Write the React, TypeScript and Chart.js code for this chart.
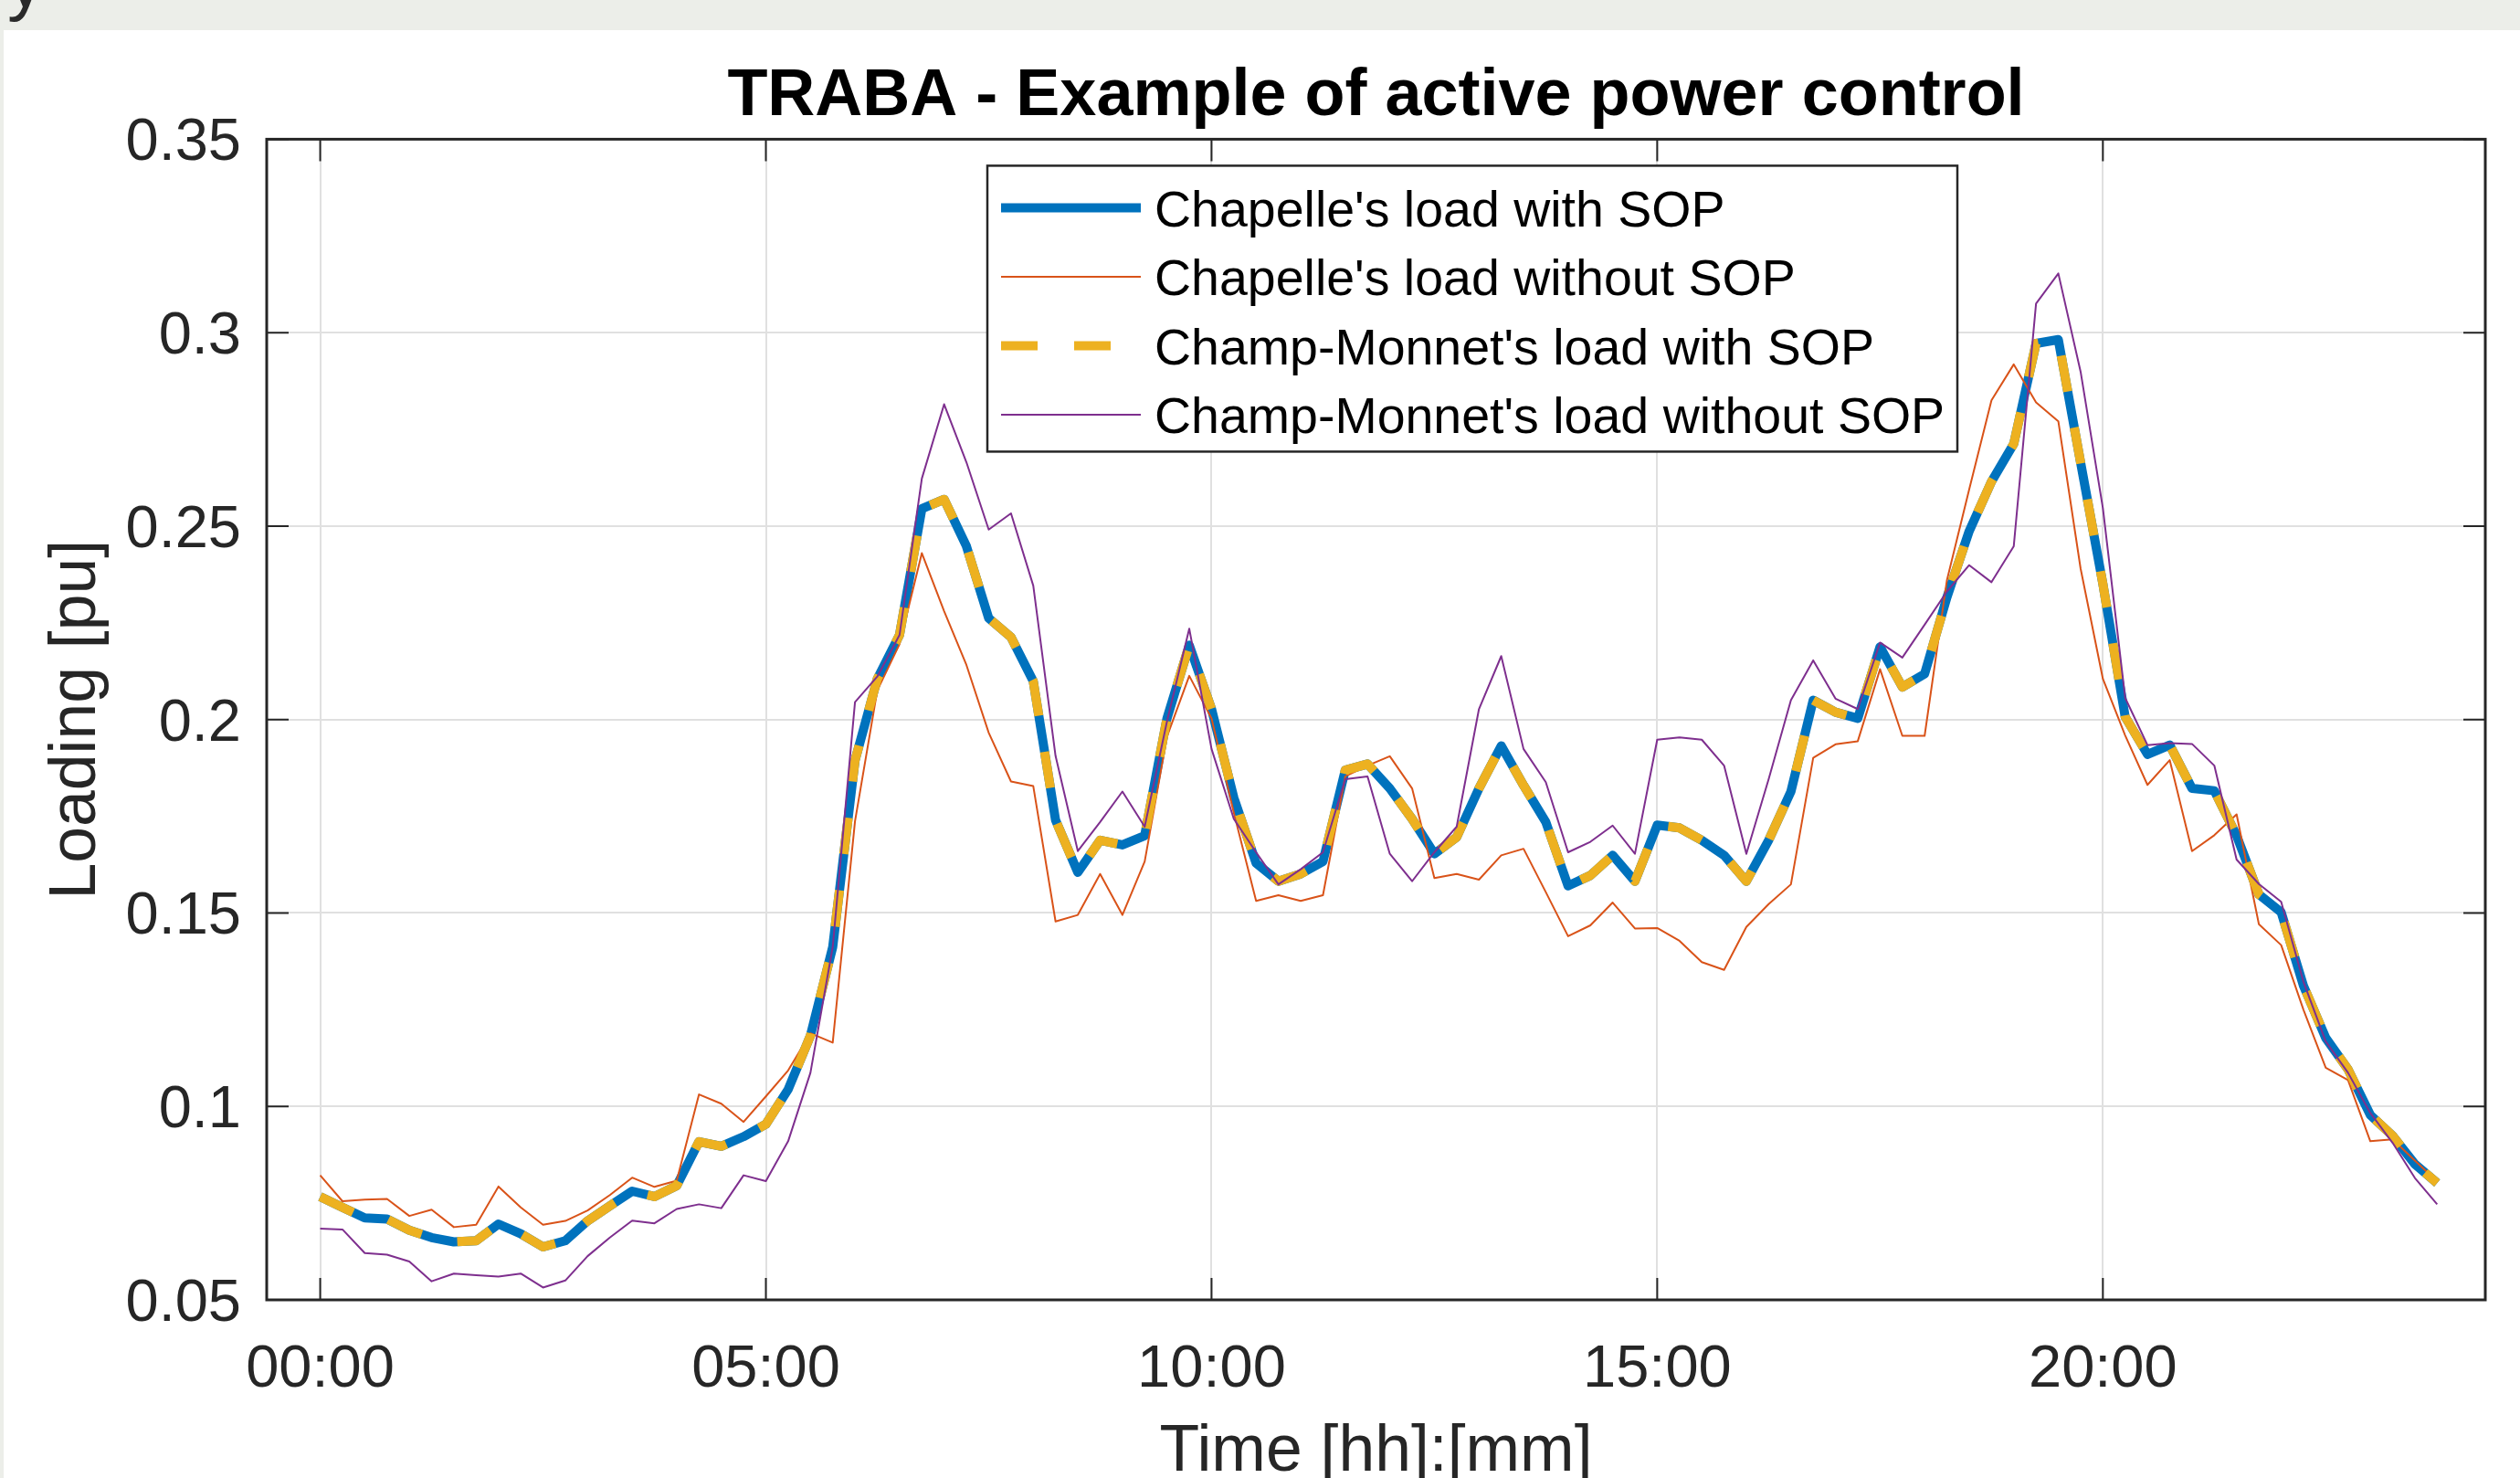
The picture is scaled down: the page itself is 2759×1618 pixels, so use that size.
import React, { useEffect, useRef } from 'react';
import { Chart, registerables } from 'chart.js';

Chart.register(...registerables);

// ---------------- data ----------------
const TITLE = 'TRABA - Example of active power control';
const X_LABEL = 'Time [hh]:[mm]';
const Y_LABEL = 'Loading [pu]';

const SERIES_NAMES = [
  "Chapelle's load with SOP",
  "Chapelle's load without SOP",
  "Champ-Monnet's load with SOP",
  "Champ-Monnet's load without SOP",
];

const TIME_LABELS = [
  '00:00','00:15','00:30','00:45','01:00','01:15','01:30','01:45','02:00','02:15','02:30','02:45',
  '03:00','03:15','03:30','03:45','04:00','04:15','04:30','04:45','05:00','05:15','05:30','05:45',
  '06:00','06:15','06:30','06:45','07:00','07:15','07:30','07:45','08:00','08:15','08:30','08:45',
  '09:00','09:15','09:30','09:45','10:00','10:15','10:30','10:45','11:00','11:15','11:30','11:45',
  '12:00','12:15','12:30','12:45','13:00','13:15','13:30','13:45','14:00','14:15','14:30','14:45',
  '15:00','15:15','15:30','15:45','16:00','16:15','16:30','16:45','17:00','17:15','17:30','17:45',
  '18:00','18:15','18:30','18:45','19:00','19:15','19:30','19:45','20:00','20:15','20:30','20:45',
  '21:00','21:15','21:30','21:45','22:00','22:15','22:30','22:45','23:00','23:15','23:30','23:45',
];

const CHAPELLE_WITH_SOP = [
  0.0767,0.0739,0.0712,0.0709,0.0680,0.0661,0.0650,0.0653,0.0696,0.0671,
  0.0637,0.0653,0.0704,0.0743,0.0781,0.0767,0.0795,0.0909,0.0897,0.0922,
  0.0954,0.1044,0.1183,0.1412,0.1894,0.2105,0.2219,0.2545,0.2569,0.2448,
  0.2262,0.2213,0.2099,0.1740,0.1605,0.1688,0.1676,0.1700,0.2003,0.2192,
  0.2027,0.1798,0.1629,0.1582,0.1601,0.1633,0.1869,0.1885,0.1822,0.1743,
  0.1653,0.1696,0.1822,0.1932,0.1830,0.1735,0.1570,0.1597,0.1649,0.1582,
  0.1727,0.1720,0.1688,0.1649,0.1582,0.1688,0.1814,0.2050,0.2019,0.2003,
  0.2188,0.2084,0.2118,0.2316,0.2487,0.2615,0.2713,0.2972,0.2982,0.2664,
  0.2350,0.2007,0.1910,0.1934,0.1822,0.1816,0.1700,0.1548,0.1502,0.1312,
  0.1177,0.1096,0.0978,0.0924,0.0851,0.0802,
];

const CHAPELLE_WITHOUT_SOP = [
  0.0822,0.0755,0.0759,0.0761,0.0717,0.0733,0.0688,0.0694,0.0793,0.0739,
  0.0694,0.0704,0.0731,0.0771,0.0816,0.0792,0.0808,0.1031,0.1007,0.0960,
  0.1026,0.1093,0.1189,0.1165,0.1737,0.2075,0.2195,0.2430,0.2280,0.2141,
  0.1966,0.1840,0.1828,0.1478,0.1495,0.1601,0.1495,0.1633,0.1956,0.2113,
  0.2003,0.1759,0.1531,0.1546,0.1531,0.1546,0.1853,0.1881,0.1905,0.1822,
  0.1590,0.1601,0.1586,0.1649,0.1666,0.1554,0.1440,0.1468,0.1527,0.1460,
  0.1461,0.1428,0.1373,0.1353,0.1464,0.1523,0.1574,0.1901,0.1936,0.1944,
  0.2130,0.1958,0.1958,0.2360,0.2595,0.2825,0.2918,0.2820,0.2771,0.2390,
  0.2105,0.1959,0.1831,0.1895,0.1660,0.1701,0.1755,0.1471,0.1417,0.1250,
  0.1100,0.1068,0.0910,0.0915,0.0860,0.0806,
];

const CHAMP_MONNET_WITH_SOP = [
  0.0767,0.0739,0.0712,0.0709,0.0680,0.0661,0.0650,0.0653,0.0696,0.0671,
  0.0637,0.0653,0.0704,0.0743,0.0781,0.0767,0.0795,0.0909,0.0897,0.0922,
  0.0954,0.1044,0.1183,0.1412,0.1894,0.2105,0.2219,0.2545,0.2569,0.2448,
  0.2262,0.2213,0.2099,0.1740,0.1605,0.1688,0.1676,0.1700,0.2003,0.2192,
  0.2027,0.1798,0.1629,0.1582,0.1601,0.1633,0.1869,0.1885,0.1822,0.1743,
  0.1653,0.1696,0.1822,0.1932,0.1830,0.1735,0.1570,0.1597,0.1649,0.1582,
  0.1727,0.1720,0.1688,0.1649,0.1582,0.1688,0.1814,0.2050,0.2019,0.2003,
  0.2188,0.2084,0.2118,0.2316,0.2487,0.2615,0.2713,0.2972,0.2982,0.2664,
  0.2350,0.2007,0.1910,0.1934,0.1822,0.1816,0.1700,0.1548,0.1502,0.1312,
  0.1177,0.1096,0.0978,0.0924,0.0851,0.0802,
];

const CHAMP_MONNET_WITHOUT_SOP = [
  0.0684,0.0682,0.0621,0.0617,0.0599,0.0548,0.0568,0.0564,0.0560,0.0568,
  0.0532,0.0550,0.0613,0.0661,0.0705,0.0698,0.0735,0.0747,0.0737,0.0822,
  0.0807,0.0910,0.1087,0.1412,0.2045,0.2111,0.2219,0.2623,0.2815,0.2665,
  0.2491,0.2533,0.2346,0.1906,0.1660,0.1735,0.1814,0.1723,0.1995,0.2235,
  0.1924,0.1743,0.1657,0.1574,0.1613,0.1657,0.1846,0.1853,0.1653,0.1582,
  0.1657,0.1723,0.2027,0.2164,0.1924,0.1838,0.1657,0.1684,0.1726,0.1653,
  0.1948,0.1954,0.1948,0.1881,0.1653,0.1846,0.2050,0.2153,0.2054,0.2027,
  0.2199,0.2160,0.2245,0.2331,0.2399,0.2355,0.2448,0.3075,0.3153,0.2899,
  0.2546,0.2056,0.1934,0.1939,0.1937,0.1881,0.1638,0.1575,0.1529,0.1322,
  0.1168,0.1087,0.0983,0.0906,0.0815,0.0747,
];

// tick positions (hours) and labels
const X_TICKS = [0, 5, 10, 15, 20];
const X_TICK_LABELS = ['00:00', '05:00', '10:00', '15:00', '20:00'];
const Y_TICKS = [0.05, 0.1, 0.15, 0.2, 0.25, 0.3, 0.35];
const Y_TICK_LABELS = ['0.05', '0.1', '0.15', '0.2', '0.25', '0.3', '0.35'];
const X_MIN = -0.6;
const X_MAX = 24.29;
const Y_MIN = 0.05;
const Y_MAX = 0.35;

// ---------------- styles ----------------
const FONT = 'Liberation Sans';
const AXIS_COLOR = '#262626';
const GRID_COLOR = '#e0e0e0';
const BLUE = '#0072BD';
const ORANGE = '#D95319';
const YELLOW = '#EDB120';
const PURPLE = '#7E2F8E';
const THICK = 10;
const THIN = 2;
const DASH = [40, 40];
const TICK_LEN = 24;

const LEGEND_STYLES = [
  { color: BLUE, width: THICK, dash: [] as number[] },
  { color: ORANGE, width: THIN, dash: [] as number[] },
  { color: YELLOW, width: THICK, dash: DASH },
  { color: PURPLE, width: THIN, dash: [] as number[] },
];

function toHours(t: string): number {
  const [h, m] = t.split(':').map(Number);
  return h + m / 60;
}

function points(values: number[]) {
  return values.map((v, i) => ({ x: toHours(TIME_LABELS[i]), y: v }));
}

const framePlugin = {
  id: 'matlabFrame',
  afterDraw(chart: any) {
    const { ctx, chartArea: a, scales } = chart;
    ctx.save();
    // inward ticks
    ctx.strokeStyle = AXIS_COLOR;
    ctx.lineWidth = 2;
    ctx.setLineDash([]);
    ctx.beginPath();
    for (const v of X_TICKS) {
      const px = scales.x.getPixelForValue(v);
      ctx.moveTo(px, a.bottom);
      ctx.lineTo(px, a.bottom - TICK_LEN);
      ctx.moveTo(px, a.top);
      ctx.lineTo(px, a.top + TICK_LEN);
    }
    for (const v of Y_TICKS) {
      const py = scales.y.getPixelForValue(v);
      ctx.moveTo(a.left, py);
      ctx.lineTo(a.left + TICK_LEN, py);
      ctx.moveTo(a.right, py);
      ctx.lineTo(a.right - TICK_LEN, py);
    }
    ctx.stroke();
    // box
    ctx.lineWidth = 3;
    ctx.strokeRect(a.left, a.top, a.right - a.left, a.bottom - a.top);

    // legend
    const lx = a.left + 789;
    const ly = a.top + 29;
    const lw = 1062;
    const lh = 313;
    ctx.fillStyle = '#ffffff';
    ctx.fillRect(lx, ly, lw, lh);
    ctx.lineWidth = 2.5;
    ctx.strokeStyle = AXIS_COLOR;
    ctx.strokeRect(lx, ly, lw, lh);
    ctx.font = `55.5px "${FONT}"`;
    ctx.textAlign = 'left';
    ctx.textBaseline = 'middle';
    SERIES_NAMES.forEach((name, i) => {
      const cy = ly + 46 + i * 75.5;
      const st = LEGEND_STYLES[i];
      ctx.beginPath();
      ctx.strokeStyle = st.color;
      ctx.lineWidth = st.width;
      ctx.lineCap = 'butt';
      ctx.setLineDash(st.dash);
      ctx.moveTo(lx + 15, cy);
      ctx.lineTo(lx + 168, cy);
      ctx.stroke();
      ctx.setLineDash([]);
      ctx.fillStyle = '#000000';
      ctx.fillText(name, lx + 183, cy + 5);
    });
    ctx.restore();
  },
};

export default function App() {
  const ref = useRef<HTMLCanvasElement>(null);

  useEffect(() => {
    const canvas = ref.current;
    if (!canvas) return;
    const lineBase = {
      pointRadius: 0,
      pointHoverRadius: 0,
      tension: 0,
      fill: false,
      borderJoinStyle: 'round' as const,
      borderCapStyle: 'butt' as const,
    };
    const chart = new Chart(canvas, {
      type: 'line',
      data: {
        datasets: [
          { ...lineBase, label: SERIES_NAMES[0], data: points(CHAPELLE_WITH_SOP), borderColor: BLUE, backgroundColor: BLUE, borderWidth: THICK, order: 3 },
          { ...lineBase, label: SERIES_NAMES[1], data: points(CHAPELLE_WITHOUT_SOP), borderColor: ORANGE, backgroundColor: ORANGE, borderWidth: THIN, order: 2 },
          { ...lineBase, label: SERIES_NAMES[2], data: points(CHAMP_MONNET_WITH_SOP), borderColor: YELLOW, backgroundColor: YELLOW, borderWidth: THICK, borderDash: DASH, order: 1 },
          { ...lineBase, label: SERIES_NAMES[3], data: points(CHAMP_MONNET_WITHOUT_SOP), borderColor: PURPLE, backgroundColor: PURPLE, borderWidth: THIN, order: 0 },
        ],
      },
      options: {
        responsive: false,
        animation: false,
        events: [],
        layout: { padding: { left: 0, right: 38, top: 0, bottom: 0 } },
        plugins: {
          legend: { display: false },
          tooltip: { enabled: false },
          title: {
            display: true,
            text: TITLE,
            fullSize: false,
            color: '#000000',
            font: { family: FONT, size: 72, weight: 'bold', lineHeight: 1.2 },
            padding: { top: 30, bottom: 3 },
          },
        },
        scales: {
          x: {
            type: 'linear',
            min: X_MIN,
            max: X_MAX,
            afterBuildTicks: (s: any) => { s.ticks = X_TICKS.map((v) => ({ value: v })); },
            afterFit: (s: any) => { s.height = 310; },
            grid: { color: GRID_COLOR, lineWidth: 2, drawTicks: false },
            border: { display: false },
            ticks: {
              padding: 38,
              color: AXIS_COLOR,
              autoSkip: false,
              maxRotation: 0,
              font: { family: FONT, size: 65 },
              callback: (_v: any, i: number) => X_TICK_LABELS[i],
            },
            title: {
              display: true,
              text: X_LABEL,
              color: AXIS_COLOR,
              font: { family: FONT, size: 71.5, lineHeight: 1.2 },
              padding: { top: 0, bottom: 100 },
            },
          },
          y: {
            type: 'linear',
            min: Y_MIN,
            max: Y_MAX,
            afterBuildTicks: (s: any) => { s.ticks = Y_TICKS.map((v) => ({ value: v })); },
            afterFit: (s: any) => { s.width = 292; },
            grid: { color: GRID_COLOR, lineWidth: 2, drawTicks: false },
            border: { display: false },
            ticks: {
              padding: 28,
              labelOffset: 5,
              color: AXIS_COLOR,
              autoSkip: false,
              font: { family: FONT, size: 65 },
              callback: (_v: any, i: number) => Y_TICK_LABELS[i],
            },
            title: {
              display: true,
              text: Y_LABEL,
              color: AXIS_COLOR,
              font: { family: FONT, size: 71.5, lineHeight: 1.2 },
              padding: { top: 41, bottom: 0 },
            },
          },
        },
      } as any,
      plugins: [framePlugin],
    });
    return () => chart.destroy();
  }, []);

  return (
    <div style={{ position: 'fixed', left: 0, top: 0, width: 2759, height: 1618, overflow: 'hidden', background: '#ffffff' }}>
      <div style={{ position: 'absolute', left: 0, top: 0, width: 2759, height: 33, background: '#eceee9' }} />
      <div style={{ position: 'absolute', left: 0, top: 0, width: 4, height: 1618, background: '#eceee9' }} />
      <div style={{ position: 'absolute', left: 8, top: -60, fontFamily: FONT, fontSize: 80, lineHeight: '80px', color: '#2a2a2a' }}>y</div>
      <canvas ref={ref} width={2759} height={1700} style={{ position: 'absolute', left: 0, top: 33, display: 'block' }} />
    </div>
  );
}
